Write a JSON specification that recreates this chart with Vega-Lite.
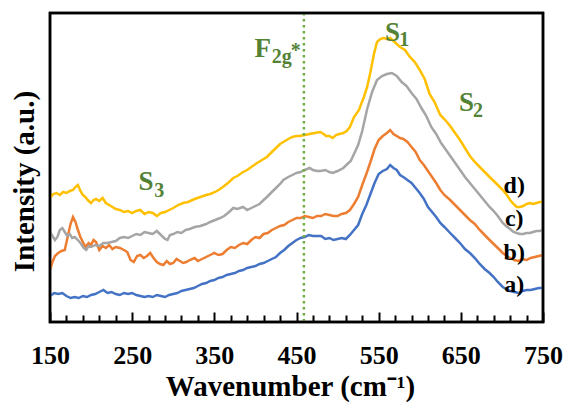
{
  "$schema": "https://vega.github.io/schema/vega-lite/v6.json",
  "width": 493,
  "height": 309,
  "autosize": {"type": "none"},
  "padding": {"left": 50, "top": 13, "right": 24, "bottom": 83},
  "background": "white",
  "view": {"stroke": "black", "strokeWidth": 2.5, "strokeDash": [3000, 0]},
  "config": {"font": "Liberation Serif"},
  "datasets": {
    "spectra": [
      {"s":"a","x":150,"y":26},{"s":"a","x":155,"y":29},{"s":"a","x":160,"y":28},{"s":"a","x":165,"y":29},{"s":"a","x":170,"y":26},{"s":"a","x":175,"y":24},{"s":"a","x":180,"y":25},{"s":"a","x":185,"y":24},{"s":"a","x":190,"y":26},{"s":"a","x":195,"y":25},{"s":"a","x":200,"y":27},{"s":"a","x":205,"y":28},{"s":"a","x":210,"y":30},{"s":"a","x":215,"y":32},{"s":"a","x":220,"y":29},{"s":"a","x":225,"y":30},{"s":"a","x":230,"y":28},{"s":"a","x":235,"y":27},{"s":"a","x":240,"y":29},{"s":"a","x":245,"y":28},{"s":"a","x":250,"y":29},{"s":"a","x":255,"y":27},{"s":"a","x":260,"y":26},{"s":"a","x":265,"y":25},{"s":"a","x":270,"y":26},{"s":"a","x":275,"y":25},{"s":"a","x":280,"y":27},{"s":"a","x":285,"y":26},{"s":"a","x":290,"y":25},{"s":"a","x":295,"y":27},{"s":"a","x":300,"y":28},{"s":"a","x":305,"y":29},{"s":"a","x":310,"y":31},{"s":"a","x":315,"y":32},{"s":"a","x":320,"y":33},{"s":"a","x":325,"y":34},{"s":"a","x":330,"y":36},{"s":"a","x":335,"y":38},{"s":"a","x":340,"y":39},{"s":"a","x":345,"y":41},{"s":"a","x":350,"y":42},{"s":"a","x":355,"y":44},{"s":"a","x":360,"y":45},{"s":"a","x":365,"y":47},{"s":"a","x":370,"y":48},{"s":"a","x":375,"y":49},{"s":"a","x":380,"y":51},{"s":"a","x":385,"y":52},{"s":"a","x":390,"y":54},{"s":"a","x":395,"y":55},{"s":"a","x":400,"y":56},{"s":"a","x":405,"y":58},{"s":"a","x":410,"y":59},{"s":"a","x":415,"y":61},{"s":"a","x":420,"y":63},{"s":"a","x":425,"y":65},{"s":"a","x":430,"y":69},{"s":"a","x":435,"y":72},{"s":"a","x":440,"y":76},{"s":"a","x":445,"y":79},{"s":"a","x":450,"y":82},{"s":"a","x":455,"y":84},{"s":"a","x":460,"y":85},{"s":"a","x":465,"y":87},{"s":"a","x":470,"y":86},{"s":"a","x":475,"y":86},{"s":"a","x":480,"y":86},{"s":"a","x":485,"y":83},{"s":"a","x":490,"y":84},{"s":"a","x":495,"y":82},{"s":"a","x":500,"y":83},{"s":"a","x":505,"y":84},{"s":"a","x":510,"y":83},{"s":"a","x":515,"y":87},{"s":"a","x":520,"y":92},{"s":"a","x":525,"y":97},{"s":"a","x":530,"y":108},{"s":"a","x":535,"y":117},{"s":"a","x":540,"y":128},{"s":"a","x":545,"y":139},{"s":"a","x":550,"y":148},{"s":"a","x":555,"y":151},{"s":"a","x":560,"y":153},{"s":"a","x":564,"y":157},{"s":"a","x":568,"y":154},{"s":"a","x":572,"y":152},{"s":"a","x":576,"y":147},{"s":"a","x":580,"y":145},{"s":"a","x":585,"y":142},{"s":"a","x":590,"y":139},{"s":"a","x":595,"y":134},{"s":"a","x":600,"y":129},{"s":"a","x":605,"y":123},{"s":"a","x":610,"y":115},{"s":"a","x":615,"y":110},{"s":"a","x":620,"y":105},{"s":"a","x":625,"y":99},{"s":"a","x":630,"y":95},{"s":"a","x":637,"y":89},{"s":"a","x":643,"y":84},{"s":"a","x":650,"y":78},{"s":"a","x":655,"y":73},{"s":"a","x":661,"y":69},{"s":"a","x":667,"y":64},{"s":"a","x":673,"y":58},{"s":"a","x":679,"y":53},{"s":"a","x":685,"y":49},{"s":"a","x":690,"y":45},{"s":"a","x":695,"y":40},{"s":"a","x":701,"y":35},{"s":"a","x":705,"y":33},{"s":"a","x":710,"y":31},{"s":"a","x":715,"y":30},{"s":"a","x":720,"y":29},{"s":"a","x":725,"y":31},{"s":"a","x":730,"y":32},{"s":"a","x":735,"y":32},{"s":"a","x":740,"y":33},{"s":"a","x":745,"y":34},{"s":"a","x":750,"y":34},

      {"s":"b","x":150,"y":52},{"s":"b","x":153,"y":60},{"s":"b","x":156,"y":66},{"s":"b","x":160,"y":69},{"s":"b","x":164,"y":71},{"s":"b","x":168,"y":72},{"s":"b","x":172,"y":87},{"s":"b","x":175,"y":98},{"s":"b","x":178,"y":105},{"s":"b","x":181,"y":100},{"s":"b","x":184,"y":92},{"s":"b","x":187,"y":85},{"s":"b","x":190,"y":80},{"s":"b","x":193,"y":75},{"s":"b","x":197,"y":79},{"s":"b","x":200,"y":77},{"s":"b","x":203,"y":82},{"s":"b","x":206,"y":80},{"s":"b","x":210,"y":72},{"s":"b","x":214,"y":76},{"s":"b","x":218,"y":74},{"s":"b","x":222,"y":77},{"s":"b","x":226,"y":73},{"s":"b","x":230,"y":75},{"s":"b","x":235,"y":74},{"s":"b","x":240,"y":72},{"s":"b","x":244,"y":70},{"s":"b","x":248,"y":62},{"s":"b","x":252,"y":60},{"s":"b","x":256,"y":66},{"s":"b","x":260,"y":67},{"s":"b","x":264,"y":64},{"s":"b","x":268,"y":66},{"s":"b","x":272,"y":69},{"s":"b","x":276,"y":64},{"s":"b","x":280,"y":60},{"s":"b","x":284,"y":58},{"s":"b","x":288,"y":57},{"s":"b","x":292,"y":61},{"s":"b","x":296,"y":58},{"s":"b","x":300,"y":59},{"s":"b","x":304,"y":63},{"s":"b","x":308,"y":61},{"s":"b","x":312,"y":59},{"s":"b","x":316,"y":60},{"s":"b","x":320,"y":62},{"s":"b","x":326,"y":64},{"s":"b","x":330,"y":61},{"s":"b","x":335,"y":63},{"s":"b","x":340,"y":65},{"s":"b","x":345,"y":67},{"s":"b","x":350,"y":69},{"s":"b","x":355,"y":67},{"s":"b","x":360,"y":68},{"s":"b","x":365,"y":72},{"s":"b","x":370,"y":75},{"s":"b","x":375,"y":74},{"s":"b","x":380,"y":77},{"s":"b","x":385,"y":79},{"s":"b","x":390,"y":78},{"s":"b","x":395,"y":82},{"s":"b","x":400,"y":85},{"s":"b","x":405,"y":84},{"s":"b","x":410,"y":88},{"s":"b","x":415,"y":89},{"s":"b","x":420,"y":92},{"s":"b","x":425,"y":94},{"s":"b","x":430,"y":96},{"s":"b","x":435,"y":97},{"s":"b","x":440,"y":100},{"s":"b","x":445,"y":102},{"s":"b","x":450,"y":104},{"s":"b","x":455,"y":104},{"s":"b","x":460,"y":106},{"s":"b","x":465,"y":105},{"s":"b","x":470,"y":104},{"s":"b","x":475,"y":106},{"s":"b","x":480,"y":106},{"s":"b","x":485,"y":108},{"s":"b","x":490,"y":107},{"s":"b","x":495,"y":106},{"s":"b","x":500,"y":106},{"s":"b","x":505,"y":108},{"s":"b","x":510,"y":109},{"s":"b","x":515,"y":112},{"s":"b","x":520,"y":118},{"s":"b","x":525,"y":125},{"s":"b","x":530,"y":137},{"s":"b","x":535,"y":148},{"s":"b","x":540,"y":160},{"s":"b","x":545,"y":173},{"s":"b","x":550,"y":182},{"s":"b","x":555,"y":186},{"s":"b","x":560,"y":189},{"s":"b","x":564,"y":192},{"s":"b","x":568,"y":188},{"s":"b","x":572,"y":186},{"s":"b","x":576,"y":184},{"s":"b","x":580,"y":183},{"s":"b","x":585,"y":180},{"s":"b","x":590,"y":175},{"s":"b","x":595,"y":170},{"s":"b","x":600,"y":162},{"s":"b","x":605,"y":157},{"s":"b","x":610,"y":151},{"s":"b","x":615,"y":145},{"s":"b","x":620,"y":139},{"s":"b","x":625,"y":132},{"s":"b","x":630,"y":127},{"s":"b","x":637,"y":122},{"s":"b","x":643,"y":117},{"s":"b","x":649,"y":112},{"s":"b","x":655,"y":107},{"s":"b","x":661,"y":102},{"s":"b","x":667,"y":98},{"s":"b","x":673,"y":92},{"s":"b","x":679,"y":87},{"s":"b","x":685,"y":82},{"s":"b","x":690,"y":78},{"s":"b","x":695,"y":74},{"s":"b","x":701,"y":69},{"s":"b","x":706,"y":66},{"s":"b","x":710,"y":64},{"s":"b","x":715,"y":62},{"s":"b","x":720,"y":61},{"s":"b","x":725,"y":63},{"s":"b","x":730,"y":62},{"s":"b","x":735,"y":64},{"s":"b","x":740,"y":65},{"s":"b","x":745,"y":66},{"s":"b","x":750,"y":67},

      {"s":"c","x":150,"y":90},{"s":"c","x":153,"y":86},{"s":"c","x":156,"y":82},{"s":"c","x":159,"y":85},{"s":"c","x":162,"y":92},{"s":"c","x":165,"y":94},{"s":"c","x":168,"y":90},{"s":"c","x":171,"y":86},{"s":"c","x":174,"y":88},{"s":"c","x":177,"y":84},{"s":"c","x":180,"y":85},{"s":"c","x":184,"y":82},{"s":"c","x":188,"y":78},{"s":"c","x":191,"y":74},{"s":"c","x":194,"y":72},{"s":"c","x":197,"y":76},{"s":"c","x":200,"y":75},{"s":"c","x":205,"y":77},{"s":"c","x":210,"y":76},{"s":"c","x":215,"y":79},{"s":"c","x":220,"y":79},{"s":"c","x":225,"y":80},{"s":"c","x":230,"y":81},{"s":"c","x":235,"y":84},{"s":"c","x":240,"y":85},{"s":"c","x":245,"y":84},{"s":"c","x":250,"y":86},{"s":"c","x":255,"y":88},{"s":"c","x":260,"y":87},{"s":"c","x":265,"y":90},{"s":"c","x":270,"y":89},{"s":"c","x":275,"y":88},{"s":"c","x":280,"y":91},{"s":"c","x":285,"y":87},{"s":"c","x":290,"y":83},{"s":"c","x":293,"y":82},{"s":"c","x":296,"y":87},{"s":"c","x":300,"y":88},{"s":"c","x":305,"y":90},{"s":"c","x":310,"y":89},{"s":"c","x":315,"y":92},{"s":"c","x":320,"y":93},{"s":"c","x":326,"y":95},{"s":"c","x":333,"y":96},{"s":"c","x":340,"y":98},{"s":"c","x":345,"y":100},{"s":"c","x":351,"y":102},{"s":"c","x":357,"y":104},{"s":"c","x":362,"y":106},{"s":"c","x":368,"y":110},{"s":"c","x":373,"y":114},{"s":"c","x":378,"y":113},{"s":"c","x":385,"y":115},{"s":"c","x":390,"y":112},{"s":"c","x":395,"y":114},{"s":"c","x":400,"y":116},{"s":"c","x":405,"y":118},{"s":"c","x":410,"y":122},{"s":"c","x":414,"y":125},{"s":"c","x":420,"y":130},{"s":"c","x":425,"y":134},{"s":"c","x":430,"y":138},{"s":"c","x":434,"y":142},{"s":"c","x":440,"y":145},{"s":"c","x":445,"y":147},{"s":"c","x":450,"y":149},{"s":"c","x":455,"y":150},{"s":"c","x":460,"y":152},{"s":"c","x":466,"y":154},{"s":"c","x":470,"y":152},{"s":"c","x":475,"y":151},{"s":"c","x":479,"y":151},{"s":"c","x":485,"y":152},{"s":"c","x":490,"y":150},{"s":"c","x":494,"y":149},{"s":"c","x":500,"y":151},{"s":"c","x":507,"y":154},{"s":"c","x":512,"y":158},{"s":"c","x":516,"y":161},{"s":"c","x":520,"y":168},{"s":"c","x":525,"y":177},{"s":"c","x":530,"y":191},{"s":"c","x":536,"y":213},{"s":"c","x":542,"y":230},{"s":"c","x":548,"y":242},{"s":"c","x":554,"y":246},{"s":"c","x":560,"y":248},{"s":"c","x":566,"y":249},{"s":"c","x":572,"y":246},{"s":"c","x":578,"y":240},{"s":"c","x":584,"y":236},{"s":"c","x":590,"y":229},{"s":"c","x":596,"y":223},{"s":"c","x":602,"y":214},{"s":"c","x":608,"y":206},{"s":"c","x":614,"y":195},{"s":"c","x":620,"y":188},{"s":"c","x":626,"y":179},{"s":"c","x":632,"y":172},{"s":"c","x":638,"y":165},{"s":"c","x":644,"y":158},{"s":"c","x":650,"y":151},{"s":"c","x":655,"y":145},{"s":"c","x":661,"y":139},{"s":"c","x":667,"y":133},{"s":"c","x":673,"y":127},{"s":"c","x":679,"y":121},{"s":"c","x":685,"y":115},{"s":"c","x":690,"y":111},{"s":"c","x":695,"y":106},{"s":"c","x":701,"y":99},{"s":"c","x":705,"y":96},{"s":"c","x":710,"y":93},{"s":"c","x":714,"y":90},{"s":"c","x":718,"y":89},{"s":"c","x":722,"y":88},{"s":"c","x":726,"y":88},{"s":"c","x":730,"y":89},{"s":"c","x":734,"y":89},{"s":"c","x":738,"y":90},{"s":"c","x":742,"y":91},{"s":"c","x":746,"y":91},{"s":"c","x":750,"y":92},

      {"s":"d","x":150,"y":124},{"s":"d","x":154,"y":128},{"s":"d","x":158,"y":129},{"s":"d","x":162,"y":127},{"s":"d","x":166,"y":130},{"s":"d","x":170,"y":129},{"s":"d","x":174,"y":131},{"s":"d","x":178,"y":132},{"s":"d","x":181,"y":135},{"s":"d","x":184,"y":137},{"s":"d","x":187,"y":131},{"s":"d","x":190,"y":127},{"s":"d","x":193,"y":125},{"s":"d","x":197,"y":121},{"s":"d","x":200,"y":119},{"s":"d","x":203,"y":122},{"s":"d","x":206,"y":123},{"s":"d","x":210,"y":121},{"s":"d","x":214,"y":124},{"s":"d","x":218,"y":119},{"s":"d","x":222,"y":117},{"s":"d","x":226,"y":115},{"s":"d","x":230,"y":113},{"s":"d","x":235,"y":112},{"s":"d","x":240,"y":110},{"s":"d","x":245,"y":111},{"s":"d","x":250,"y":109},{"s":"d","x":255,"y":111},{"s":"d","x":260,"y":112},{"s":"d","x":265,"y":108},{"s":"d","x":270,"y":110},{"s":"d","x":275,"y":109},{"s":"d","x":280,"y":106},{"s":"d","x":285,"y":109},{"s":"d","x":290,"y":110},{"s":"d","x":295,"y":112},{"s":"d","x":300,"y":114},{"s":"d","x":306,"y":117},{"s":"d","x":312,"y":119},{"s":"d","x":318,"y":120},{"s":"d","x":326,"y":123},{"s":"d","x":333,"y":125},{"s":"d","x":340,"y":127},{"s":"d","x":345,"y":128},{"s":"d","x":351,"y":130},{"s":"d","x":357,"y":133},{"s":"d","x":362,"y":136},{"s":"d","x":368,"y":140},{"s":"d","x":373,"y":144},{"s":"d","x":378,"y":146},{"s":"d","x":385,"y":150},{"s":"d","x":390,"y":152},{"s":"d","x":395,"y":155},{"s":"d","x":402,"y":159},{"s":"d","x":408,"y":162},{"s":"d","x":414,"y":165},{"s":"d","x":420,"y":170},{"s":"d","x":425,"y":174},{"s":"d","x":430,"y":178},{"s":"d","x":434,"y":180},{"s":"d","x":440,"y":183},{"s":"d","x":445,"y":185},{"s":"d","x":450,"y":186},{"s":"d","x":454,"y":186},{"s":"d","x":460,"y":187},{"s":"d","x":466,"y":188},{"s":"d","x":472,"y":189},{"s":"d","x":479,"y":190},{"s":"d","x":483,"y":188},{"s":"d","x":486,"y":186},{"s":"d","x":490,"y":186},{"s":"d","x":494,"y":184},{"s":"d","x":498,"y":187},{"s":"d","x":502,"y":188},{"s":"d","x":507,"y":189},{"s":"d","x":511,"y":191},{"s":"d","x":515,"y":195},{"s":"d","x":520,"y":205},{"s":"d","x":526,"y":212},{"s":"d","x":532,"y":225},{"s":"d","x":536,"y":235},{"s":"d","x":540,"y":250},{"s":"d","x":544,"y":267},{"s":"d","x":548,"y":280},{"s":"d","x":552,"y":283},{"s":"d","x":556,"y":284},{"s":"d","x":560,"y":283},{"s":"d","x":564,"y":284},{"s":"d","x":568,"y":281},{"s":"d","x":572,"y":278},{"s":"d","x":576,"y":275},{"s":"d","x":582,"y":272},{"s":"d","x":588,"y":265},{"s":"d","x":594,"y":260},{"s":"d","x":600,"y":252},{"s":"d","x":606,"y":243},{"s":"d","x":612,"y":228},{"s":"d","x":618,"y":220},{"s":"d","x":625,"y":207},{"s":"d","x":631,"y":202},{"s":"d","x":637,"y":196},{"s":"d","x":643,"y":189},{"s":"d","x":649,"y":182},{"s":"d","x":655,"y":174},{"s":"d","x":661,"y":166},{"s":"d","x":667,"y":160},{"s":"d","x":673,"y":155},{"s":"d","x":679,"y":150},{"s":"d","x":685,"y":145},{"s":"d","x":690,"y":141},{"s":"d","x":695,"y":137},{"s":"d","x":701,"y":132},{"s":"d","x":706,"y":127},{"s":"d","x":710,"y":122},{"s":"d","x":714,"y":118},{"s":"d","x":718,"y":115},{"s":"d","x":722,"y":115},{"s":"d","x":726,"y":116},{"s":"d","x":730,"y":118},{"s":"d","x":734,"y":119},{"s":"d","x":738,"y":118},{"s":"d","x":742,"y":119},{"s":"d","x":746,"y":120},{"s":"d","x":750,"y":120}
    ],
    "bigLabels": [
      {"t":"S","x":567,"y":281},
      {"t":"S","x":657,"y":211},
      {"t":"S","x":267,"y":132},
      {"t":"F","x":409,"y":265}
    ],
    "subLabels": [
      {"t":"1","x":581,"y":276},
      {"t":"2","x":671,"y":205},
      {"t":"3","x":283,"y":125},
      {"t":"2g","x":432,"y":259},
      {"t":"*","x":449,"y":265}
    ],
    "seriesLabels": [
      {"t":"d)","x":715,"y":129},
      {"t":"c)","x":715,"y":96},
      {"t":"b)","x":715,"y":62},
      {"t":"a)","x":715,"y":30}
    ],
    "marker": [{"x": 459}],
    "frame": [{"i":0,"x":150,"y":0},{"i":1,"x":750,"y":0},{"i":2,"x":750,"y":309},{"i":3,"x":150,"y":309},{"i":4,"x":150,"y":0}]
  },
  "encoding": {
    "x": {"field": "x", "type": "quantitative", "scale": {"domain": [150, 750], "nice": false, "zero": false},
      "axis": {"orient": "bottom", "values": [150,170,190,210,230,250,270,290,310,330,350,370,390,410,430,450,470,490,510,530,550,570,590,610,630,650,670,690,710,730,750],
        "labelExpr": "datum.value % 100 == 50 ? format(datum.value, 'd') : ''",
        "domain": false, "grid": false, "ticks": true,
        "tickSize": {"condition": {"test": "datum.value % 100 == 50", "value": -10}, "value": -7},
        "tickWidth": 2, "tickColor": "black", "tickDash": [30, 0],
        "labelFont": "Liberation Serif", "labelFontWeight": "bold", "labelFontSize": 26, "labelColor": "black",
        "labelBaseline": "alphabetic", "labelPadding": 51, "labelFlush": false, "labelOverlap": false,
        "title": "Wavenumber (cm⁻¹)", "titleFont": "Liberation Serif", "titleFontWeight": "bold", "titleFontSize": 29, "titleColor": "black",
        "titleX": 240, "titleY": 73, "titleBaseline": "alphabetic", "titleAlign": "center"}},
    "y": {"field": "y", "type": "quantitative", "scale": {"domain": [0, 309], "nice": false, "zero": false},
      "axis": {"title": "Intensity (a.u.)", "labels": false, "ticks": false, "domain": false, "grid": false,
        "titleFont": "Liberation Serif", "titleFontWeight": "bold", "titleFontSize": 29, "titleColor": "black",
        "titleX": -17, "titleY": 168, "titleBaseline": "alphabetic", "titleAlign": "center", "titleAngle": 270}}
  },
  "layer": [
    {
      "data": {"name": "spectra"},
      "mark": {"type": "line", "strokeWidth": 2.5},
      "encoding": {
        "color": {"field": "s", "type": "nominal", "scale": {"domain": ["a", "b", "c", "d"], "range": ["#4472C4", "#ED7D31", "#A5A5A5", "#FFC000"]}, "legend": null},
        "order": {"field": "x", "type": "quantitative"}
      }
    },
    {
      "data": {"name": "marker"},
      "mark": {"type": "rule", "color": "#70AD47", "strokeWidth": 2.5, "strokeDash": [2.5, 3.5]},
      "encoding": {"y": null}
    },
    {
      "data": {"name": "frame"},
      "mark": {"type": "line", "color": "black", "strokeWidth": 2.5, "strokeCap": "square"},
      "encoding": {"order": {"field": "i", "type": "quantitative"}}
    },
    {
      "data": {"name": "bigLabels"},
      "mark": {"type": "text", "font": "Liberation Serif", "fontWeight": "bold", "fontSize": 27, "color": "#548235", "align": "center", "baseline": "alphabetic"},
      "encoding": {"text": {"field": "t"}}
    },
    {
      "data": {"name": "subLabels"},
      "mark": {"type": "text", "font": "Liberation Serif", "fontWeight": "bold", "fontSize": 20, "color": "#548235", "align": "center", "baseline": "alphabetic"},
      "encoding": {"text": {"field": "t"}}
    },
    {
      "data": {"name": "seriesLabels"},
      "mark": {"type": "text", "font": "Liberation Serif", "fontWeight": "bold", "fontSize": 24, "color": "black", "align": "center", "baseline": "alphabetic"},
      "encoding": {"text": {"field": "t"}}
    }
  ]
}
